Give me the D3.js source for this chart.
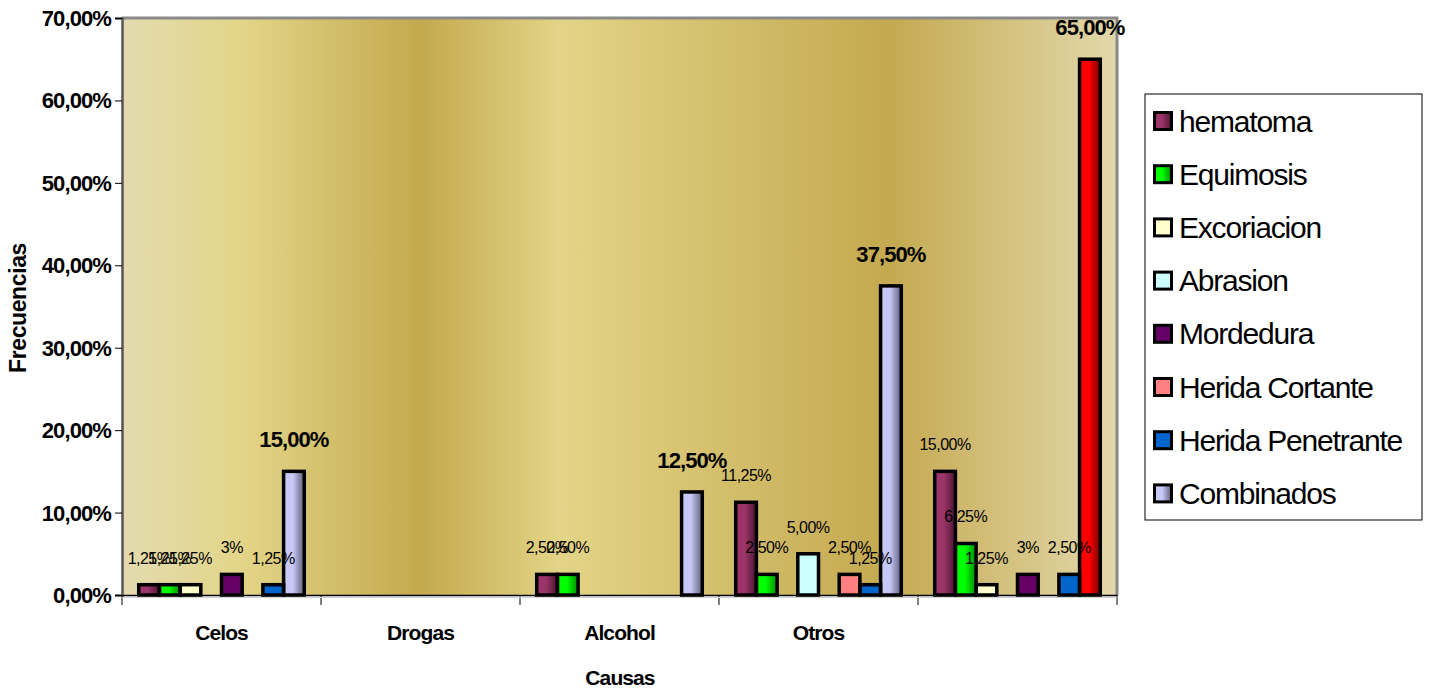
<!DOCTYPE html>
<html>
<head>
<meta charset="utf-8">
<script src="https://cdn.jsdelivr.net/npm/d3@7/dist/d3.min.js"></script>
<style>
  html, body { margin: 0; padding: 0; background: #ffffff; }
  svg { display: block; font-family: "Liberation Sans", Arial, sans-serif; }
</style>
</head>
<body>
<svg id="chart" width="1429" height="688"></svg>
<script>
// Causes of injury (categories); the last group has no name
const categories = ["Celos", "Drogas", "Alcohol", "Otros", ""];

// Injury types (series)
const seriesNames = ["hematoma", "Equimosis", "Excoriacion", "Abrasion", "Mordedura",
                     "Herida Cortante", "Herida Penetrante", "Combinados"];

// Share of cases per cause, in percent, one array per injury type
const hematoma         = [1.25, 0, 2.5, 11.25, 15];
const equimosis        = [1.25, 0, 2.5, 2.5, 6.25];
const excoriacion      = [1.25, 0, 0, 0, 1.25];
const abrasion         = [0, 0, 0, 5, 0];
const mordedura        = [2.5, 0, 0, 0, 2.5];
const heridaCortante   = [0, 0, 0, 2.5, 0];
const heridaPenetrante = [1.25, 0, 0, 1.25, 2.5];
const combinados       = [15, 0, 12.5, 37.5, 65];

// Value-axis ticks, in percent
const yTicks = [0, 10, 20, 30, 40, 50, 60, 70];

const seriesValues = [hematoma, equimosis, excoriacion, abrasion, mordedura,
                      heridaCortante, heridaPenetrante, combinados];

// Fill colours: [light, dark]; same value means a flat fill
const seriesFill = [
  ["#9b3468", "#4a1530"],
  ["#00ff00", "#008a00"],
  ["#ffffcc", "#ffffcc"],
  ["#ccffff", "#ccffff"],
  ["#660066", "#660066"],
  ["#ff8080", "#ff8080"],
  ["#0066cc", "#0066cc"],
  ["#c8c8f6", "#5e5e78"]
];
// The last Combinados bar is shown in red
const pointOverride = { series: 7, category: 4, fill: ["#ff0000", "#7a0000"] };

// Number format with decimal comma
const locale = d3.formatLocale({ decimal: ",", thousands: ".", grouping: [3], currency: ["", "€"] });
const seriesFormat = seriesNames.map((_, i) => i === 4 ? locale.format(".0%") : locale.format(".2%"));
const axisFormat = locale.format(".2%");

const svg = d3.select("#chart");
const defs = svg.append("defs");

const plot = { left: 122, right: 1117, top: 18, bottom: 595 };

// Background of the plot area: banded golden gradient
const bg = defs.append("linearGradient").attr("id", "plotBg")
  .attr("x1", "0").attr("x2", "1").attr("y1", "0").attr("y2", "0");
[[0, "#e3dbb0"], [0.12, "#e3d588"], [0.30, "#c4a94e"], [0.44, "#e3d487"],
 [0.77, "#c4a950"], [1, "#e2d8aa"]].forEach(([o, c]) =>
  bg.append("stop").attr("offset", o).attr("stop-color", c));

function barGradient(id, pair) {
  const g = defs.append("linearGradient").attr("id", id)
    .attr("x1", "0").attr("x2", "1").attr("y1", "0").attr("y2", "0");
  g.append("stop").attr("offset", 0).attr("stop-color", pair[0]);
  g.append("stop").attr("offset", 0.45).attr("stop-color", pair[0]);
  g.append("stop").attr("offset", 1).attr("stop-color", pair[1]);
  return `url(#${id})`;
}
const seriesPaint = seriesFill.map((p, i) => barGradient("s" + i, p));
const overridePaint = barGradient("sOverride", pointOverride.fill);

svg.append("rect")
  .attr("x", plot.left).attr("y", plot.top)
  .attr("width", plot.right - plot.left).attr("height", plot.bottom - plot.top)
  .attr("fill", "url(#plotBg)");

// Scales
const x0 = d3.scaleBand().domain(d3.range(categories.length))
  .range([plot.left, plot.right]).paddingInner(0).paddingOuter(0);
const gap = 0.168;
const x1 = d3.scaleBand().domain(d3.range(seriesNames.length))
  .range([x0.bandwidth() * gap / 2, x0.bandwidth() * (1 - gap / 2)]).padding(0);
const y = d3.scaleLinear().domain([0, 70]).range([plot.bottom, plot.top]);

// Plot frame (top and right)
svg.append("path")
  .attr("d", `M${plot.left},${plot.top}H${plot.right}V${plot.bottom}`)
  .attr("fill", "none").attr("stroke", "#8a8a8a").attr("stroke-width", 3);

// Bars
const bars = [];
seriesValues.forEach((vals, s) => {
  vals.forEach((v, c) => {
    if (v > 0) bars.push({ s, c, v });
  });
});

const fillLayer = svg.append("g");
const labelLayer = svg.append("g");
const outlineLayer = svg.append("g");

const isOverride = d => d.s === pointOverride.series && d.c === pointOverride.category;

fillLayer.selectAll("rect").data(bars).join("rect")
  .attr("x", d => x0(d.c) + x1(d.s))
  .attr("y", d => y(d.v))
  .attr("width", x1.bandwidth())
  .attr("height", d => y(0) - y(d.v))
  .attr("fill", d => isOverride(d) ? overridePaint : seriesPaint[d.s]);

labelLayer.selectAll("text").data(bars).join("text")
  .attr("x", d => x0(d.c) + x1(d.s) + x1.bandwidth() / 2)
  .attr("y", d => y(d.v) - (d.s === 7 ? 24 : 21))
  .attr("text-anchor", "middle")
  .attr("font-size", d => d.s === 7 ? 22 : 16)
  .attr("font-weight", d => d.s === 7 ? "bold" : "normal")
  .attr("letter-spacing", d => d.s === 7 ? -0.9 : -0.5)
  .attr("fill", "#000")
  .text(d => seriesFormat[d.s](d.v / 100));

outlineLayer.selectAll("rect").data(bars).join("rect")
  .attr("x", d => x0(d.c) + x1(d.s))
  .attr("y", d => y(d.v))
  .attr("width", x1.bandwidth())
  .attr("height", d => y(0) - y(d.v))
  .attr("fill", "none")
  .attr("stroke", "#000").attr("stroke-width", 3.5);

// Value axis
const yAxis = svg.append("g").attr("transform", `translate(${plot.left},0)`)
  .call(d3.axisLeft(y).tickValues(yTicks).tickSize(7).tickPadding(4)
    .tickFormat(d => axisFormat(d / 100)));
yAxis.select(".domain").attr("stroke", "#555").attr("stroke-width", 2.5);
yAxis.selectAll(".tick line").attr("stroke", "#000");
yAxis.selectAll(".tick text")
  .attr("font-family", "Liberation Sans, Arial, sans-serif")
  .attr("font-size", 22).attr("font-weight", "bold").attr("letter-spacing", -0.9)
  .attr("fill", "#000").attr("dy", "0.34em");

// Category axis
const xAxis = svg.append("g").attr("transform", `translate(0,${plot.bottom})`)
  .call(d3.axisBottom(x0).tickSize(0).tickFormat(i => categories[i]));
xAxis.select(".domain").attr("stroke", "#000").attr("stroke-width", 1.5);
xAxis.selectAll(".tick text")
  .attr("font-family", "Liberation Sans, Arial, sans-serif")
  .attr("font-size", 21).attr("font-weight", "bold").attr("letter-spacing", -0.9)
  .attr("fill", "#000").attr("y", 45).attr("dy", 0);
// Tick marks between categories
const boundaries = d3.range(categories.length + 1)
  .map(i => i < categories.length ? x0(i) : x0(i - 1) + x0.bandwidth());
svg.append("g").selectAll("line").data(boundaries).join("line")
  .attr("x1", d => d).attr("x2", d => d)
  .attr("y1", plot.bottom).attr("y2", plot.bottom + 10)
  .attr("stroke", "#000").attr("stroke-width", 1);
svg.append("line")
  .attr("x1", plot.left).attr("x2", plot.right)
  .attr("y1", plot.bottom + 2.5).attr("y2", plot.bottom + 2.5)
  .attr("stroke", "#d0d0d0").attr("stroke-width", 1);

// Axis titles
svg.append("text")
  .attr("x", 620).attr("y", 685)
  .attr("text-anchor", "middle")
  .attr("font-size", 21).attr("font-weight", "bold").attr("letter-spacing", -0.9)
  .text("Causas");
svg.append("text")
  .attr("transform", `translate(26,308) rotate(-90)`)
  .attr("text-anchor", "middle")
  .attr("font-size", 23).attr("font-weight", "bold").attr("letter-spacing", -0.4)
  .text("Frecuencias");

// Legend
const legend = svg.append("g").attr("transform", "translate(1145,94)");
legend.append("rect").attr("width", 277).attr("height", 426)
  .attr("fill", "#fff").attr("stroke", "#000").attr("stroke-width", 1);
const item = legend.selectAll("g.item").data(seriesNames).join("g")
  .attr("class", "item")
  .attr("transform", (d, i) => `translate(0,${27.5 + i * 53.2})`);
item.append("rect")
  .attr("x", 9.5).attr("y", -9).attr("width", 17).attr("height", 17)
  .attr("fill", (d, i) => seriesPaint[i])
  .attr("stroke", "#000").attr("stroke-width", 3);
item.append("text")
  .attr("x", 34).attr("y", 10)
  .attr("font-size", 30).attr("letter-spacing", -1.2)
  .text(d => d);
</script>
</body>
</html>
